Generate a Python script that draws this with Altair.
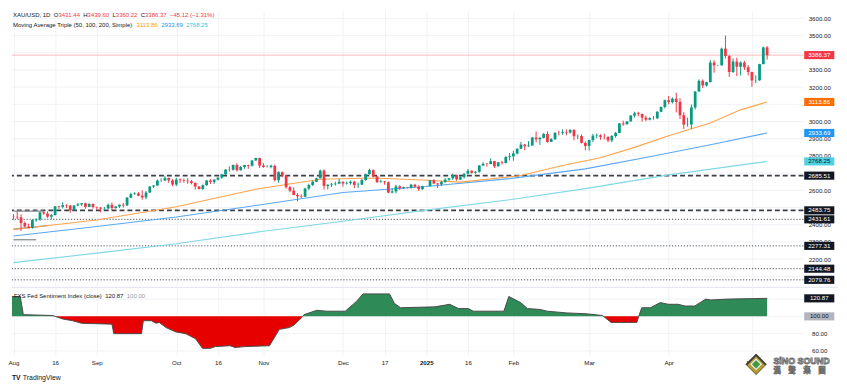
import altair as alt
import pandas as pd

# ---------------- data (daily XAU/USD candles, 1 Aug 2024 .. 7 May 2025) ----------------
opens = [
    2447, 2446, 2443, 2410, 2390, 2382, 2427, 2431, 2472, 2465, 2447, 2456, 2507, 2504, 2514, 2512, 2484, 2512, 2518, 2525, 2504, 2521,
    2503, 2500, 2494, 2495, 2516, 2497, 2506, 2516, 2512, 2558, 2578, 2582, 2569, 2559, 2587, 2622, 2628, 2657, 2657, 2672, 2658,
    2634, 2663, 2659, 2656, 2653, 2643, 2622, 2608, 2630, 2657, 2649, 2662, 2674, 2693, 2721, 2720, 2748, 2717, 2736, 2747, 2743, 2774, 2788,
    2744, 2736, 2736, 2743, 2659, 2706, 2685, 2618, 2598, 2573, 2565, 2563, 2611, 2631, 2650, 2670, 2715, 2626, 2633, 2636, 2639,
    2650, 2640, 2643, 2650, 2631, 2633, 2660, 2694, 2718, 2681, 2648, 2652, 2647, 2587, 2594, 2623, 2612, 2618, 2615, 2633, 2621, 2607,
    2624, 2624, 2658, 2640, 2635, 2648, 2662, 2670, 2690, 2663, 2677, 2697, 2714, 2702, 2708, 2745, 2755, 2753, 2770, 2740, 2763, 2759, 2794,
    2798, 2815, 2842, 2866, 2856, 2861, 2907, 2897, 2905, 2928, 2882, 2898, 2935, 2934, 2939, 2936, 2951, 2915, 2916, 2876,
    2858, 2893, 2918, 2920, 2911, 2910, 2890, 2916, 2934, 2989, 2984, 3001, 3035, 3048, 3044, 3023, 3011, 3020, 3019, 3057, 3085,
    3124, 3113, 3133, 3114, 3037, 2982, 2983, 3082, 3175, 3237, 3210, 3229, 3343, 3327, 3327, 3424, 3381, 3288, 3349, 3319, 3343, 3316,
    3288, 3239, 3240, 3334, 3431.44,
]
highs = [
    2462, 2477, 2461, 2419, 2406, 2432, 2437, 2476, 2479, 2477, 2462, 2509, 2510, 2531, 2520, 2513, 2513, 2527, 2526, 2528, 2524, 2524,
    2505, 2502, 2504, 2523, 2529, 2508, 2518, 2527, 2560, 2586, 2589, 2590, 2600, 2596, 2626, 2631, 2664, 2670, 2685, 2675, 2665,
    2673, 2670, 2668, 2671, 2660, 2646, 2625, 2634, 2661, 2666, 2665, 2676, 2696, 2722, 2740, 2749, 2758, 2742, 2748, 2749, 2774, 2790, 2790,
    2758, 2746, 2750, 2749, 2711, 2709, 2689, 2626, 2618, 2584, 2577, 2615, 2639, 2657, 2674, 2721, 2722, 2635, 2643, 2650, 2666,
    2652, 2652, 2657, 2655, 2645, 2667, 2697, 2726, 2722, 2684, 2662, 2655, 2651, 2613, 2633, 2630, 2621, 2619, 2638, 2638, 2629, 2627,
    2626, 2661, 2665, 2644, 2655, 2671, 2673, 2697, 2691, 2683, 2699, 2724, 2716, 2711, 2746, 2763, 2759, 2786, 2772, 2765, 2770, 2799, 2817,
    2830, 2845, 2882, 2870, 2886, 2911, 2942, 2910, 2933, 2943, 2904, 2937, 2947, 2955, 2954, 2956, 2956, 2925, 2925, 2884,
    2894, 2928, 2930, 2926, 2930, 2915, 2922, 2940, 2990, 3005, 3002, 3038, 3057, 3057, 3047, 3034, 3025, 3033, 3060, 3087, 3128,
    3149, 3140, 3167, 3136, 3055, 3023, 3099, 3176, 3245, 3245, 3232, 3357, 3357, 3330, 3430, 3500, 3386, 3367, 3371, 3350, 3353, 3328,
    3290, 3269, 3336, 3436, 3439.60,
]
lows = [
    2429, 2432, 2364, 2385, 2380, 2377, 2417, 2424, 2458, 2440, 2432, 2454, 2492, 2494, 2496, 2470, 2481, 2507, 2509, 2493, 2503, 2494,
    2489, 2472, 2484, 2491, 2485, 2494, 2498, 2500, 2510, 2555, 2575, 2566, 2546, 2548, 2585, 2614, 2626, 2649, 2655, 2643, 2624,
    2624, 2643, 2644, 2638, 2635, 2605, 2605, 2603, 2626, 2637, 2637, 2657, 2667, 2691, 2708, 2714, 2709, 2715, 2725, 2725, 2738, 2771, 2730,
    2731, 2733, 2728, 2652, 2644, 2677, 2610, 2589, 2572, 2537, 2555, 2562, 2601, 2625, 2648, 2669, 2605, 2605, 2619, 2628, 2636,
    2622, 2634, 2633, 2613, 2614, 2631, 2656, 2692, 2676, 2643, 2645, 2633, 2583, 2583, 2582, 2603, 2610, 2612, 2611, 2615, 2597, 2603,
    2622, 2624, 2636, 2614, 2625, 2645, 2656, 2660, 2656, 2660, 2669, 2693, 2697, 2696, 2703, 2740, 2738, 2752, 2730, 2738, 2750, 2756, 2774,
    2772, 2809, 2841, 2834, 2853, 2860, 2880, 2864, 2902, 2877, 2881, 2893, 2920, 2922, 2920, 2930, 2891, 2897, 2872, 2833,
    2832, 2880, 2903, 2894, 2896, 2880, 2880, 2906, 2932, 2976, 2983, 3000, 3024, 3030, 2999, 3002, 3007, 3011, 3015, 3055, 3076,
    3100, 3105, 3054, 3015, 2957, 2970, 2957, 3071, 3174, 3194, 3204, 3228, 3284, 3322, 3325, 3367, 3260, 3283, 3265, 3268, 3300, 3268,
    3202, 3223, 3237, 3333, 3360.22,
]
closes = [
    2446, 2443, 2410, 2390, 2382, 2427, 2431, 2472, 2465, 2447, 2456, 2507, 2504, 2514, 2512, 2484, 2512, 2518, 2525, 2504, 2521, 2503,
    2500, 2494, 2495, 2516, 2497, 2506, 2516, 2512, 2558, 2578, 2582, 2569, 2559, 2587, 2622, 2628, 2657, 2657, 2672, 2658, 2634,
    2663, 2659, 2656, 2653, 2643, 2622, 2608, 2630, 2657, 2649, 2662, 2674, 2693, 2721, 2720, 2748, 2717, 2736, 2747, 2743, 2774, 2788, 2744,
    2736, 2736, 2743, 2659, 2706, 2685, 2618, 2598, 2573, 2565, 2563, 2611, 2631, 2650, 2670, 2715, 2626, 2633, 2636, 2639, 2650,
    2640, 2643, 2650, 2631, 2633, 2660, 2694, 2718, 2681, 2648, 2652, 2647, 2587, 2594, 2623, 2612, 2618, 2615, 2633, 2621, 2607, 2624,
    2624, 2658, 2640, 2635, 2648, 2662, 2670, 2690, 2663, 2677, 2697, 2714, 2702, 2708, 2745, 2755, 2753, 2770, 2740, 2763, 2759, 2794, 2798,
    2815, 2842, 2866, 2856, 2861, 2907, 2897, 2905, 2928, 2882, 2898, 2935, 2934, 2939, 2936, 2951, 2915, 2916, 2876, 2858,
    2893, 2918, 2920, 2911, 2910, 2890, 2916, 2934, 2989, 2984, 3001, 3035, 3048, 3044, 3023, 3011, 3020, 3019, 3057, 3085, 3124,
    3113, 3133, 3114, 3037, 2982, 2983, 3082, 3175, 3237, 3210, 3229, 3343, 3327, 3327, 3424, 3381, 3288, 3349, 3319, 3343, 3316, 3288,
    3239, 3240, 3334, 3431, 3386.37,
]

# moving averages (bar number from 1 Aug 2024, value)
ma50_bar = [0, 22, 43, 64, 81, 95, 108, 118, 134, 145, 155, 164, 173, 184, 192, 199]
ma50_val = [2372, 2428, 2505, 2606, 2665, 2672, 2660, 2648, 2686, 2744, 2790, 2850, 2918, 2992, 3068, 3113.86]
ma100_bar = [0, 22, 43, 64, 87, 109, 131, 151, 168, 185, 199]
ma100_val = [2335, 2390, 2445, 2512, 2588, 2622, 2668, 2725, 2795, 2870, 2933.69]
ma200_bar = [0, 22, 43, 66, 87, 109, 131, 151, 173, 199]
ma200_val = [2180, 2235, 2290, 2362, 2420, 2485, 2545, 2610, 2690, 2768.25]

# FXS Fed Sentiment Index (bar number, value)
fxs_bar = [-0.4, 1.8, 2.6, 10.4, 11.0, 13, 15.6, 18, 26, 26.5, 33.8, 34.3, 36.4, 37.7, 38.5, 40.3, 42.9, 45.5, 48.1, 49.9,
           52, 53.3, 57.2, 58.5, 61.1, 67.6, 70.2, 72.8, 74.1, 76.2, 76.4, 76.7, 80.1, 82.7, 87.6, 90.5, 92.3, 99.3, 100.6, 102.2,
           111.3, 115.2, 117.5, 120.1, 121.4, 129.5, 130.8, 133.9, 135.7, 139.1, 140.9, 146.1, 151.3, 155.5, 155.8, 157.8, 164.6,
           165.1, 165.9, 168.2, 170.8, 172.9, 175.5, 177.3, 179.9, 182.8, 184.1, 188.5, 199]
fxs_val = [123, 123, 102, 101, 100, 97, 95, 92, 91, 80, 80, 95, 95, 92, 93, 87, 82, 80, 74, 63,
           63, 65, 66, 64, 65, 66, 85, 87, 90, 99, 100, 102, 107, 106, 106, 117, 126, 126, 115, 110,
           111, 114, 109, 109, 106, 106, 123, 116, 109, 108, 106, 104, 103, 101, 100, 93, 93,
           100, 110, 110, 116, 114, 114, 112, 112, 120, 119, 120, 120.87]

dashed_levels = [2685.51, 2483.75]
dotted_levels = [2431.61, 2277.31, 2144.48, 2079.76]
last_close = 3386.37

# gray user drawings at the left edge
draw_b0 = [0, 0, 0]
draw_b1 = [8, 9, 6]
draw_p0 = [2479, 2374, 2313]
draw_p1 = [2479, 2395, 2313]

tick_dates = ["2024-08-01", "2024-08-16", "2024-09-02", "2024-10-01", "2024-10-16", "2024-11-01", "2024-12-02",
              "2024-12-17", "2025-01-01", "2025-01-16", "2025-02-03", "2025-03-03", "2025-04-01", "2025-05-01"]
tick_labels = ["Aug", "16", "Sep", "Oct", "16", "Nov", "Dec", "17", "2025", "16", "Feb", "Mar", "Apr", "May"]

price_grid = list(range(2100, 3700, 100))
price_labels = [2200, 2300, 2400, 2600, 2800, 2900, 3000, 3200, 3300, 3500, 3600]  # others sit under tags
fxs_grid = [60, 80, 100, 120]
fxs_labels = [60, 80]

tag_vals = [3386.37, 3113.86, 2933.69, 2768.25, 2685.51, 2483.75, 2431.61, 2277.31, 2144.48, 2079.76]
tag_bg = ["#F23645", "#FF6D00", "#2196F3", "#4DD0E1", "#131722", "#131722", "#131722", "#131722", "#131722", "#131722"]
tag_fg = ["#FFFFFF", "#FFFFFF", "#FFFFFF", "#131722", "#FFFFFF", "#FFFFFF", "#FFFFFF", "#FFFFFF", "#FFFFFF", "#FFFFFF"]
ftag_vals = [120.87, 100.00]
ftag_bg = ["#131722", "#B2B5BE"]
ftag_fg = ["#FFFFFF", "#131722"]

# ---------------- styling ----------------
FONT = "Liberation Sans"
TXT = "#131722"
UP = "#089981"
DOWN = "#F23645"
GRID = "#F0F2F6"
W, H1, H2 = 802, 279, 68
FS = 6.2
TAG_X = 818
TAG_SHAPE = "M-1,-0.27L1,-0.27L1,0.27L-1,0.27Z"

AW = {"0": .556, "1": .556, "2": .556, "3": .556, "4": .556, "5": .556, "6": .556, "7": .556, "8": .556, "9": .556,
      ".": .278, ",": .278, " ": .278, "(": .333, ")": .333, "%": .889, "\u2212": .584, "-": .333, "/": .278,
      "X": .667, "A": .667, "U": .722, "S": .667, "D": .722, "O": .778, "H": .722, "L": .556, "C": .722, "M": .833,
      "T": .611, "F": .611, "I": .278, "i": .222, "l": .222, "r": .333, "t": .278, "v": .5, "s": .5, "c": .5, "x": .5,
      "m": .833}


def tw(s, size):
    return sum(AW.get(ch, .556) for ch in s) * size


ONE = pd.DataFrame({"a": [0]})


def text_run(parts, x0, y, size):
    out = []
    x = x0
    for txt, col, wt in parts:
        out.append(alt.Chart(ONE).mark_text(align="left", baseline="middle", font=FONT, fontSize=size,
                                            fontWeight=wt, color=col)
                   .encode(x=alt.value(x), y=alt.value(y), text=alt.value(txt)))
        x += tw(txt, size)
    return out


dates = pd.bdate_range("2024-08-01", periods=len(closes))
tick_idx = [int(dates.get_loc(pd.Timestamp(d))) for d in tick_dates]
label_expr = "".join(f"datum.value == {i} ? '{l}' : " for i, l in zip(tick_idx, tick_labels)) + "''"
bold_idx = tick_idx[tick_labels.index("2025")]

candles = pd.DataFrame({"i": range(len(closes)), "o": opens, "h": highs, "l": lows, "c": closes})

xscale = alt.Scale(domain=[-0.4, 208.6], nice=False, zero=False, padding=0)
yscale = alt.Scale(domain=[2045, 3646], nice=False, zero=False, padding=0)
fscale = alt.Scale(domain=[55.4, 133.1], nice=False, zero=False, padding=0)

XT = alt.Axis(values=tick_idx, grid=True, gridColor=GRID, labels=False, ticks=False, domain=False, title=None)
YT = alt.Axis(orient="right", values=price_labels, format=".2f", title=None, domain=False, ticks=False,
              labelPadding=16, grid=False, labelFont=FONT, labelFontSize=FS,
              labelColor=TXT, labelAlign="center", labelOverlap=False)
XB = alt.Axis(values=tick_idx, labelExpr=label_expr, grid=True, gridColor=GRID, ticks=False, tickSize=0,
              domain=False, title=None, labelPadding=5, labelFont=FONT, labelFontSize=FS,
              labelColor=TXT, labelFlush=False, labelOverlap=False,
              labelFontWeight={"condition": {"test": f"datum.value == {bold_idx}", "value": "bold"},
                               "value": "normal"})
YB = alt.Axis(orient="right", values=fxs_labels, format=".2f", title=None, domain=False, ticks=False,
              labelPadding=16, grid=False, labelFont=FONT, labelFontSize=FS,
              labelColor=TXT, labelAlign="center", labelOverlap=False)


def px(f):
    return alt.X(f, scale=xscale, axis=XT)


def py(f):
    return alt.Y(f, scale=yscale, axis=YT)


# ---------------- top pane ----------------
hgrid = alt.Chart(pd.DataFrame({"v": price_grid})).mark_rule(color=GRID, strokeWidth=1).encode(y=py("v:Q"))
dash_rules = alt.Chart(pd.DataFrame({"v": dashed_levels})).mark_rule(
    color="#3B3E46", strokeDash=[5, 3], strokeWidth=1.6).encode(y=py("v:Q"))
dot_rules = alt.Chart(pd.DataFrame({"v": dotted_levels})).mark_rule(
    color="#4A4D55", strokeDash=[1.2, 1.8], strokeWidth=1).encode(y=py("v:Q"))
last_rule = alt.Chart(pd.DataFrame({"v": [last_close]})).mark_rule(
    color="#F23645", opacity=0.35, strokeWidth=1).encode(y=py("v:Q"))
drawings = alt.Chart(pd.DataFrame({"b0": draw_b0, "b1": draw_b1, "p0": draw_p0, "p1": draw_p1})).mark_rule(
    color="#9598A1", strokeWidth=1.4).encode(x=px("b0:Q"), x2="b1:Q", y=py("p0:Q"), y2="p1:Q")


def ma_line(bars, vals, color):
    return alt.Chart(pd.DataFrame({"b": bars, "v": vals})).mark_line(color=color, strokeWidth=1.1).encode(
        x=px("b:Q"), y=py("v:Q"))


ma200 = ma_line(ma200_bar, ma200_val, "#7FD8E6")
ma100 = ma_line(ma100_bar, ma100_val, "#5AA7F4")
ma50 = ma_line(ma50_bar, ma50_val, "#FFA24A")

col = alt.condition("datum.c >= datum.o", alt.value(UP), alt.value(DOWN))
wicks = alt.Chart(candles).mark_rule(strokeWidth=1).encode(x=px("i:Q"), y=py("l:Q"), y2="h:Q", color=col)
bodies = alt.Chart(candles).mark_bar(size=2.8).encode(x=px("i:Q"), y=py("o:Q"), y2="c:Q", color=col)

tags = pd.DataFrame({"v": tag_vals, "label": [f"{v:.2f}" for v in tag_vals], "bg": tag_bg, "fg": tag_fg})
tag_box = alt.Chart(tags).mark_point(shape=TAG_SHAPE, size=930, filled=True, opacity=1, strokeWidth=0).encode(
    x=alt.value(TAG_X), y=py("v:Q"), fill=alt.Fill("bg:N", scale=None))
tag_txt = alt.Chart(tags).mark_text(font=FONT, fontSize=FS, align="center", baseline="middle").encode(
    x=alt.value(TAG_X), y=py("v:Q"), text="label:N", color=alt.Color("fg:N", scale=None))

RED = "#F23645"
header1 = text_run([("XAU/USD, 1D  ", TXT, "normal"), ("O", TXT, "normal"), ("3431.44  ", RED, "normal"),
                    ("H", TXT, "normal"), ("3439.60  ", RED, "normal"), ("L", TXT, "normal"),
                    ("3360.22  ", RED, "normal"), ("C", TXT, "normal"), ("3386.37  ", RED, "normal"),
                    ("\u221245.12 (\u22121.31%)", RED, "normal")], 1, 4.8, 6.05)
header2 = text_run([("Moving Average Triple (50, 100, 200, Simple)  ", TXT, "normal"),
                    ("3113.86  ", "#FF9800", "normal"), ("2933.69  ", "#2196F3", "normal"),
                    ("2768.25", "#26C6DA", "normal")], 1, 14.8, 6.05)

top = alt.layer(hgrid, dash_rules, dot_rules, last_rule, drawings, ma200, ma100, ma50, wicks, bodies,
                tag_box, tag_txt, *header1, *header2).properties(width=W, height=H1)

# ---------------- bottom pane (sentiment index) ----------------
fxs = pd.DataFrame({"b": fxs_bar, "v": fxs_val})


def bx(f):
    return alt.X(f, scale=xscale, axis=XB)


def by(f):
    return alt.Y(f, scale=fscale, axis=YB)


fgrid = alt.Chart(pd.DataFrame({"v": fxs_grid})).mark_rule(color=GRID, strokeWidth=1).encode(y=by("v:Q"))
green = alt.Chart(fxs).transform_calculate(top="max(datum.v, 100)").mark_area(color="#2E8B57", opacity=1).encode(
    x=bx("b:Q"), y=by("top:Q"), y2=alt.datum(100))
red = alt.Chart(fxs).transform_calculate(bot="min(datum.v, 100)").mark_area(color="#E60000", opacity=1).encode(
    x=bx("b:Q"), y=by("bot:Q"), y2=alt.datum(100))
fline = alt.Chart(fxs).mark_line(color="#4A4A4A", strokeWidth=1).encode(x=bx("b:Q"), y=by("v:Q"))
sep = alt.Chart(ONE).mark_rule(color="#E0E3EB", strokeWidth=1).encode(
    x=alt.value(0), x2=alt.value(W + 35), y=alt.value(-0.5))

ftags = pd.DataFrame({"v": ftag_vals, "label": [f"{v:.2f}" for v in ftag_vals], "bg": ftag_bg, "fg": ftag_fg})
ftag_box = alt.Chart(ftags).mark_point(shape=TAG_SHAPE, size=930, filled=True, opacity=1, strokeWidth=0).encode(
    x=alt.value(TAG_X), y=by("v:Q"), fill=alt.Fill("bg:N", scale=None))
ftag_txt = alt.Chart(ftags).mark_text(font=FONT, fontSize=FS, align="center", baseline="middle").encode(
    x=alt.value(TAG_X), y=by("v:Q"), text="label:N", color=alt.Color("fg:N", scale=None))

flabel = text_run([("FXS Fed Sentiment Index (close)  ", TXT, "normal"), ("120.87  ", TXT, "normal"),
                   ("100.00", "#9598A1", "normal")], 2, 8, 6.05)

tv_logo = [
    alt.Chart(ONE).mark_text(align="left", baseline="middle", font=FONT, fontSize=6.8, fontWeight="bold",
                             color=TXT).encode(x=alt.value(0), y=alt.value(91), text=alt.value("TV")),
    alt.Chart(ONE).mark_text(align="left", baseline="middle", font=FONT, fontSize=7.0,
                             color=TXT).encode(x=alt.value(11), y=alt.value(91), text=alt.value("TradingView")),
]

wm = [
    alt.Chart(ONE).mark_point(shape="diamond", size=470, filled=True, color="#3C3C3C", opacity=1).encode(
        x=alt.value(754), y=alt.value(77.5)),
    alt.Chart(ONE).mark_point(shape="diamond", size=330, filled=True, color="#B89B2B", opacity=1).encode(
        x=alt.value(754), y=alt.value(78.5)),
    alt.Chart(ONE).mark_point(shape="diamond", size=150, filled=True, color="#E6E6E6", opacity=1).encode(
        x=alt.value(754), y=alt.value(77.5)),
    alt.Chart(ONE).mark_point(shape="diamond", size=70, filled=True, color="#3E9B3A", opacity=1).encode(
        x=alt.value(754), y=alt.value(77.5)),
    alt.Chart(ONE).mark_text(align="center", baseline="middle", font=FONT, fontSize=9, fontWeight="bold",
                             color="#FFFFFF", stroke="#6E6E6E", strokeWidth=0.9).encode(
        x=alt.value(800), y=alt.value(74), text=alt.value("SiNO SOUND")),
    alt.Chart(ONE).mark_text(align="center", baseline="middle", font="Noto Sans CJK TC", fontSize=7.6,
                             fontWeight="bold", color="#FFFFFF", stroke="#6E6E6E", strokeWidth=0.7).encode(
        x=alt.value(798), y=alt.value(84.5), text=alt.value("漢\u3000聲\u3000集\u3000團")),
]

bottom = alt.layer(fgrid, green, red, fline, sep, ftag_box, ftag_txt, *flabel, *tv_logo, *wm).properties(
    width=W, height=H2)

chart = alt.vconcat(top, bottom, spacing=1).properties(padding=0, background="#FFFFFF").configure_view(
    stroke=None)

chart.save("out.html", embed_options={"renderer": "svg", "actions": False})
